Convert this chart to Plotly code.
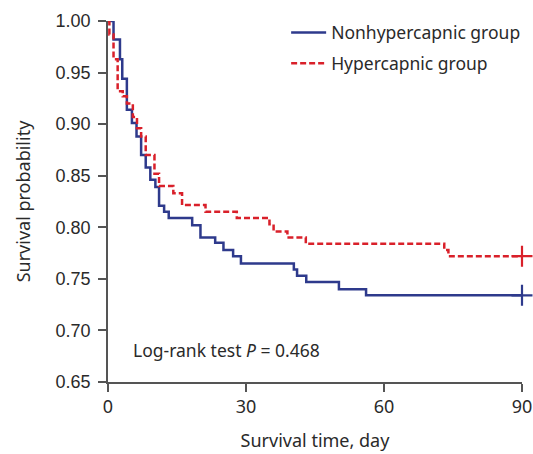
import plotly.graph_objects as go

# Kaplan-Meier step data (time in days, survival probability after the step)
nonhyper_time = [0, 1.2, 2.6, 3.1, 4.1, 5.2, 6.2, 7.2, 8.2, 9.2, 10.3, 11.1, 12.2, 13.2,
                 18.3, 20.1, 23.3, 25.1, 27.2, 28.9, 40.4, 41.1, 43.1, 50.2, 56.1, 90]
nonhyper_surv = [1.000, 0.982, 0.963, 0.944, 0.914, 0.901, 0.888, 0.870, 0.858, 0.846, 0.839,
                 0.821, 0.815, 0.809, 0.802, 0.790, 0.785, 0.778, 0.772, 0.765, 0.759, 0.753,
                 0.747, 0.740, 0.734, 0.734]

hyper_time = [0, 0.3, 1.2, 2.1, 3.2, 4.1, 5.4, 6.3, 7.2, 8.2, 10.1, 11.1, 14.2, 16.1,
              21.2, 28.0, 35.1, 36.0, 39.0, 43.0, 73.1, 74.0, 90]
hyper_surv = [1.000, 0.987, 0.963, 0.932, 0.927, 0.920, 0.907, 0.896, 0.888, 0.870, 0.852,
              0.840, 0.833, 0.8215, 0.815, 0.809, 0.803, 0.796, 0.790, 0.784, 0.778, 0.772, 0.772]

censor_time = [90]
series_names = ["Nonhypercapnic group", "Hypercapnic group"]
x_ticks = [0, 30, 60, 90]
y_ticks = [0.65, 0.70, 0.75, 0.80, 0.85, 0.90, 0.95, 1.00]

BLUE = "#2e3a8c"
RED = "#d9202a"
AX = "#555555"
TXT = "#2a2a2a"

fig = go.Figure()
fig.add_trace(go.Scatter(x=nonhyper_time, y=nonhyper_surv, mode="lines", line_shape="hv",
                         line=dict(color=BLUE, width=2.5), name=series_names[0],
                         legendgroup="a"))
fig.add_trace(go.Scatter(x=hyper_time, y=hyper_surv, mode="lines", line_shape="hv",
                         line=dict(color=RED, width=2.5, dash="6px,3px"), name=series_names[1],
                         legendgroup="b"))
fig.add_trace(go.Scatter(x=censor_time, y=[nonhyper_surv[-1]], mode="markers", showlegend=False,
                         marker=dict(symbol="cross-thin", size=15, line=dict(color=BLUE, width=2.2)),
                         cliponaxis=False))
fig.add_trace(go.Scatter(x=censor_time, y=[hyper_surv[-1]], mode="markers", showlegend=False,
                         marker=dict(symbol="cross-thin", size=15, line=dict(color=RED, width=2.2)),
                         cliponaxis=False))

fig.add_annotation(x=5.0, y=0.681, xref="x", yref="y", xanchor="left", yanchor="middle",
                   text="Log-rank test <i>P</i> = 0.468", showarrow=False,
                   font=dict(family="Noto Sans", size=17.5, color=TXT))

fig.update_layout(
    width=533, height=454,
    margin=dict(l=108, r=11, t=21, b=72, autoexpand=False),
    paper_bgcolor="white", plot_bgcolor="white",
    showlegend=True,
    legend=dict(x=1.01, y=1.018, xanchor="right", yanchor="top",
                font=dict(family="Noto Sans", size=17.5, color=TXT),
                bgcolor="rgba(0,0,0,0)", tracegroupgap=5, traceorder="grouped",
                itemwidth=35),
    xaxis=dict(range=[0, 90], tickvals=x_ticks, ticktext=[str(v) for v in x_ticks],
               showgrid=False, zeroline=False, showline=True, linecolor=AX, linewidth=1.5,
               ticks="outside", ticklen=8, tickwidth=1.5, tickcolor=AX,
               tickfont=dict(family="Noto Sans", size=18, color=TXT),
               title=dict(text="Survival time, day", standoff=17,
                          font=dict(family="Noto Sans", size=18, color=TXT))),
    yaxis=dict(range=[0.65, 1.0], tickvals=y_ticks, ticktext=[f"{v:.2f}" for v in y_ticks],
               showgrid=False, zeroline=False, showline=True, linecolor=AX, linewidth=1.5,
               ticks="outside", ticklen=8, tickwidth=1.5, tickcolor=AX,
               ticklabelstandoff=4,
               tickfont=dict(family="Liberation Sans", size=18, color=TXT),
               title=dict(text="Survival probability", standoff=20,
                          font=dict(family="Noto Sans", size=18, color=TXT))),
)

fig.write_html("out.html")
